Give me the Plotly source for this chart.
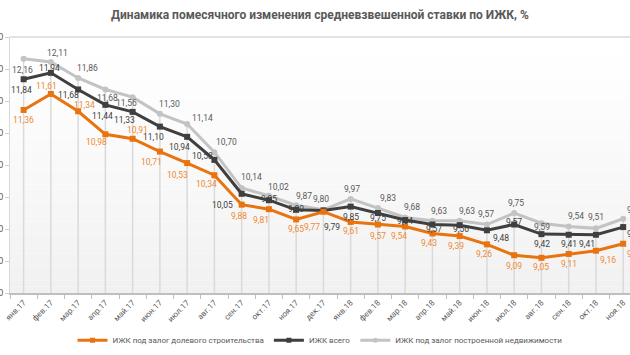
import plotly.graph_objects as go

categories = ["янв.17", "фев.17", "мар.17", "апр.17", "май.17", "июн.17", "июл.17", "авг.17",
              "сен.17", "окт.17", "ноя.17", "дек.17", "янв.18", "фев.18", "мар.18", "апр.18",
              "май.18", "июн.18", "июл.18", "авг.18", "сен.18", "окт.18", "ноя.18"]

shared_equity = [11.36, 11.61, 11.34, 10.98, 10.91, 10.71, 10.53, 10.34, 9.88, 9.81, 9.65, 9.77,
                 9.61, 9.57, 9.54, 9.43, 9.39, 9.26, 9.09, 9.05, 9.11, 9.16, 9.27]
total = [11.84, 11.94, 11.68, 11.44, 11.33, 11.10, 10.94, 10.58, 10.05, 9.95, 9.80, 9.79,
         9.85, 9.75, 9.64, 9.57, 9.56, 9.48, 9.57, 9.42, 9.41, 9.41, 9.53]
built = [12.16, 12.11, 11.86, 11.68, 11.56, 11.30, 11.14, 10.70, 10.14, 10.02, 9.87, 9.80,
         9.97, 9.83, 9.68, 9.63, 9.63, 9.57, 9.75, 9.59, 9.54, 9.51, 9.66]

y_ticks = [8.5, 9.0, 9.5, 10.0, 10.5, 11.0, 11.5, 12.0, 12.5]

names = ["ИЖК под залог долевого строительства", "ИЖК всего", "ИЖК под залог построенной недвижимости"]
title = "Динамика помесячного изменения средневзвешенной ставки по ИЖК, %"

# label offsets (dx, dy) in pixels, screen coords (dy positive = down)
off_orange = [(0, 10), (-4, -8), (6, -6), (-9, 8), (5, -9), (-8, 10), (-10, 12), (-8, 9),
              (-3, 11), (-8, 11), (0, 10), (-11, 15), (0, 9), (0, 11), (-6, 10), (-3, 10),
              (-4, 10), (-3, 10), (0, 11), (0, 9), (0, 10), (12, 9), (12, 10)]
off_total = [(-2, 11), (-1, -5), (-10, 6), (-3, 11), (-8, 8), (-6, 10), (-8, 10), (-12, -4),
             (-19, 11), (0, -1), (0, -1), (9, 17), (0, 10), (0, 5), (0, 1), (2, 4),
             (1, 4), (14, 8), (0, -3), (1, 10), (0, 9), (-9, 9), (12, 7)]
off_built = [(-1, 11), (7, -9), (9, -10), (2, 9), (-6, 6), (10, -10), (15, -6), (12, -10),
             (10, -11), (10, -9), (8, -9), (-2, -11), (1, -10), (10, -10), (7, -10), (7, -10),
             (7, -10), (-1, -11), (2, -10), (1, 4), (7, -10), (0, -11), (12, -9)]

ORANGE = "#e8730f"
ORANGE_TXT = "#ee8a33"
DARK = "#3f3f3f"
LIGHT = "#c3c3c3"
TXT = "#595959"
FONT = "Roboto, Liberation Sans, Arial, sans-serif"

xs = list(range(len(categories)))
y_min, y_max = y_ticks[0], y_ticks[-1]

fig = go.Figure()

# drop lines from the highest series down to the axis
dx_, dy_ = [], []
for i in xs:
    top = max(shared_equity[i], total[i], built[i])
    dx_ += [i, i, None]
    dy_ += [top, y_min, None]
fig.add_trace(go.Scatter(x=dx_, y=dy_, mode="lines", line=dict(color="#dadada", width=1.5),
                         hoverinfo="skip", showlegend=False))

series = [
    (shared_equity, names[0], ORANGE, "square"),
    (total, names[1], DARK, "square"),
    (built, names[2], LIGHT, "circle"),
]
for vals, nm, col, sym in [series[2], series[1], series[0]]:
    fig.add_trace(go.Scatter(x=xs, y=vals, name=nm, mode="lines+markers",
                             line=dict(color=col, width=3),
                             marker=dict(color=col, size=6, symbol=sym),
                             showlegend=False, cliponaxis=False))

# legend entries in proper order
for vals, nm, col, sym in series:
    fig.add_trace(go.Scatter(x=[None], y=[None], name=nm, mode="lines+markers",
                             line=dict(color=col, width=3),
                             marker=dict(color=col, size=5, symbol=sym)))

annotations = []
for vals, offs, col in [(built, off_built, TXT), (total, off_total, "#404040"),
                        (shared_equity, off_orange, ORANGE_TXT)]:
    for i, v in enumerate(vals):
        dx, dy = offs[i]
        annotations.append(dict(x=i, y=v, xref="x", yref="y", text=f"{v:.2f}".replace(".", ","),
                                showarrow=False, xshift=dx, yshift=-dy,
                                font=dict(family=FONT, size=8.5, color=col)))

# background gradient bands
shapes = []
n_bands = 40
for k in range(n_bands):
    t = k / (n_bands - 1)
    g = int(round(255 - 14 * (t ** 1.2)))
    shapes.append(dict(type="rect", xref="x domain", yref="y domain",
                       x0=0, x1=1, y0=1 - (k + 1) / n_bands, y1=1 - k / n_bands,
                       fillcolor=f"rgb({g},{g},{g})", line=dict(width=0), layer="below"))
shapes.append(dict(type="line", xref="x domain", yref="y domain", x0=0, x1=1, y0=1, y1=1,
                   line=dict(color="#e3e3e3", width=2), layer="below"))

fig.update_layout(
    width=630, height=355,
    margin=dict(l=10, r=0, t=37, b=62),
    paper_bgcolor="white", plot_bgcolor="white",
    title=dict(text=title, x=0.5, xref="paper", xanchor="center", y=0.957, yanchor="middle",
               font=dict(family=FONT, size=12, color=TXT, weight="bold")),
    font=dict(family=FONT, color=TXT),
    showlegend=True,
    legend=dict(orientation="h", x=0.5, xanchor="center", y=-0.185, yanchor="middle",
                font=dict(family=FONT, size=8, color=TXT), itemwidth=30,
                bgcolor="rgba(0,0,0,0)"),
    annotations=annotations,
    shapes=shapes,
)

fig.update_xaxes(range=[-0.5, 22.25], tickmode="array", tickvals=xs, ticktext=categories,
                 tickangle=-45, ticks="", showgrid=False, zeroline=False,
                 showline=True, linecolor="#bfbfbf", linewidth=2,
                 tickfont=dict(family=FONT, size=8, color=TXT),
                 minor=dict(tickmode="array", tickvals=[i - 0.5 for i in xs] + [22.5],
                            ticks="outside", ticklen=4, tickcolor="#bfbfbf", showgrid=False))
fig.update_yaxes(range=[y_min, y_max], tickmode="array", tickvals=y_ticks,
                 ticktext=[f"{v:.2f}".replace(".", ",") for v in y_ticks],
                 ticks="outside", ticklen=4, tickcolor="#d0d0d0", showgrid=False,
                 zeroline=False, showline=True, linecolor="#d9d9d9", linewidth=1,
                 tickfont=dict(family=FONT, size=9, color=TXT), automargin=False)

fig.write_html("out.html", config={"displayModeBar": False},
               post_script="document.body.style.margin='0';")
